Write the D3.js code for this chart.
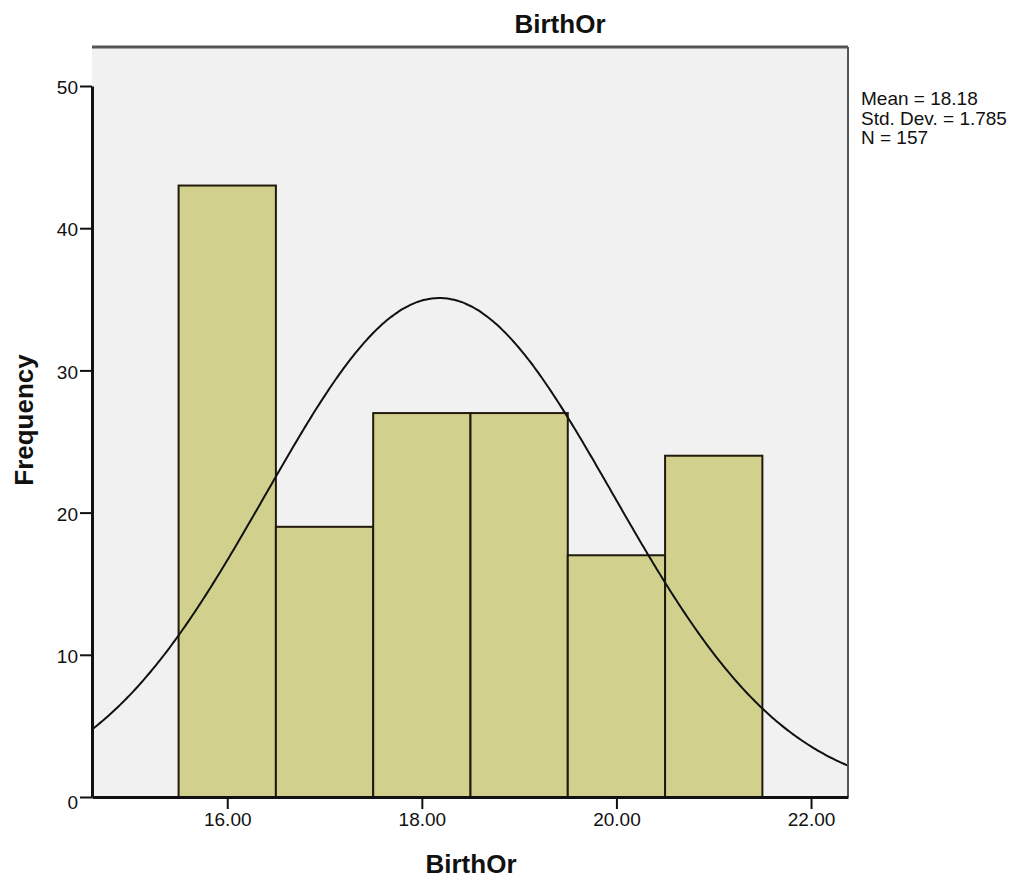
<!DOCTYPE html>
<html>
<head>
<meta charset="utf-8">
<script src="https://cdn.jsdelivr.net/npm/d3@7"></script>
<style>
  body { margin: 0; background: #fff; }
  svg { display: block; font-family: "Liberation Sans", Arial, sans-serif; }
</style>
</head>
<body>
<svg id="chart" width="1021" height="883"></svg>
<script>
// Histogram of BirthOr with fitted normal curve
const binStarts = [15.5, 16.5, 17.5, 18.5, 19.5, 20.5];
const binWidth = 1;
const frequencies = [43, 19, 27, 27, 17, 24];
const xTicks = [16, 18, 20, 22];
const yTicks = [0, 10, 20, 30, 40, 50];
const stats = { mean: 18.18, sd: 1.785, n: 157 };
const statLines = ["Mean = 18.18", "Std. Dev. = 1.785", "N = 157"];

const svg = d3.select("#chart");
const plot = { left: 92, top: 47, right: 848, bottom: 797 };

const x = d3.scaleLinear().domain([14.61, 22.38]).range([plot.left, plot.right]);
const y = d3.scaleLinear().domain([0, 50]).range([plot.bottom, 86]);

svg.append("defs").append("clipPath").attr("id", "plotClip")
  .append("rect")
  .attr("x", plot.left).attr("y", plot.top)
  .attr("width", plot.right - plot.left).attr("height", plot.bottom - plot.top);

// Plot background
svg.append("rect")
  .attr("x", plot.left).attr("y", plot.top)
  .attr("width", plot.right - plot.left).attr("height", plot.bottom - plot.top)
  .attr("fill", "#f1f1f1");

// Bars
svg.append("g").selectAll("rect")
  .data(binStarts.map((s, i) => ({ s, f: frequencies[i] })))
  .join("rect")
  .attr("x", d => x(d.s))
  .attr("y", d => y(d.f))
  .attr("width", d => x(d.s + binWidth) - x(d.s))
  .attr("height", d => y(0) - y(d.f))
  .attr("fill", "#d1d18d")
  .attr("stroke", "#211a0c")
  .attr("stroke-width", 2);

// Normal curve scaled to counts: N * binWidth * pdf
const pdf = v => Math.exp(-0.5 * ((v - stats.mean) / stats.sd) ** 2) / (stats.sd * Math.sqrt(2 * Math.PI));
const curvePts = d3.range(0, 401).map(i => {
  const v = x.domain()[0] + (x.domain()[1] - x.domain()[0]) * i / 400;
  return [v, stats.n * binWidth * pdf(v)];
});
svg.append("path")
  .attr("clip-path", "url(#plotClip)")
  .attr("d", d3.line().x(d => x(d[0])).y(d => y(d[1])).curve(d3.curveBasis)(curvePts))
  .attr("fill", "none")
  .attr("stroke", "#111")
  .attr("stroke-width", 2);

// Frame
svg.append("path")
  .attr("d", `M${plot.right},${plot.top}H${plot.left}`)
  .attr("stroke", "#555").attr("stroke-width", 3).attr("fill", "none");
svg.append("path")
  .attr("d", `M${plot.right},${plot.top}V${plot.bottom}`)
  .attr("stroke", "#555").attr("stroke-width", 2).attr("fill", "none");

// Axes
const xAxis = d3.axisBottom(x).tickValues(xTicks).tickFormat(d3.format(".2f")).tickSize(12).tickSizeOuter(0).tickPadding(4);
const yAxis = d3.axisLeft(y).tickValues(yTicks).tickSize(12).tickSizeOuter(0).tickPadding(2);

const gx = svg.append("g").attr("transform", `translate(0,${plot.bottom})`).call(xAxis);
const gy = svg.append("g").attr("transform", `translate(${plot.left},0)`).call(yAxis);
[gx, gy].forEach(g => {
  g.select(".domain").attr("stroke", "#111").attr("stroke-width", 3);
  g.selectAll(".tick line").attr("stroke", "#111").attr("stroke-width", 2);
  g.selectAll(".tick text").attr("fill", "#111").attr("font-size", 19)
    .attr("font-family", "'Liberation Sans', Arial, sans-serif");
});
gy.selectAll(".tick text").attr("dy", "0.4em");
gy.selectAll(".tick").filter(d => d === 0).select("text").attr("dy", "0.6em");

// Titles
svg.append("text")
  .attr("x", 560).attr("y", 33)
  .attr("text-anchor", "middle")
  .attr("font-size", 26).attr("font-weight", "bold").attr("fill", "#111")
  .text("BirthOr");

svg.append("text")
  .attr("x", 471).attr("y", 873)
  .attr("text-anchor", "middle")
  .attr("font-size", 26).attr("font-weight", "bold").attr("fill", "#111")
  .text("BirthOr");

svg.append("text")
  .attr("transform", "translate(33,420) rotate(-90)")
  .attr("text-anchor", "middle")
  .attr("font-size", 26).attr("font-weight", "bold").attr("fill", "#111")
  .text("Frequency");

// Summary statistics
svg.append("g").selectAll("text")
  .data(statLines)
  .join("text")
  .attr("x", 861)
  .attr("y", (d, i) => 105 + i * 19.5)
  .attr("font-size", 19).attr("fill", "#111")
  .text(d => d);
</script>
</body>
</html>
